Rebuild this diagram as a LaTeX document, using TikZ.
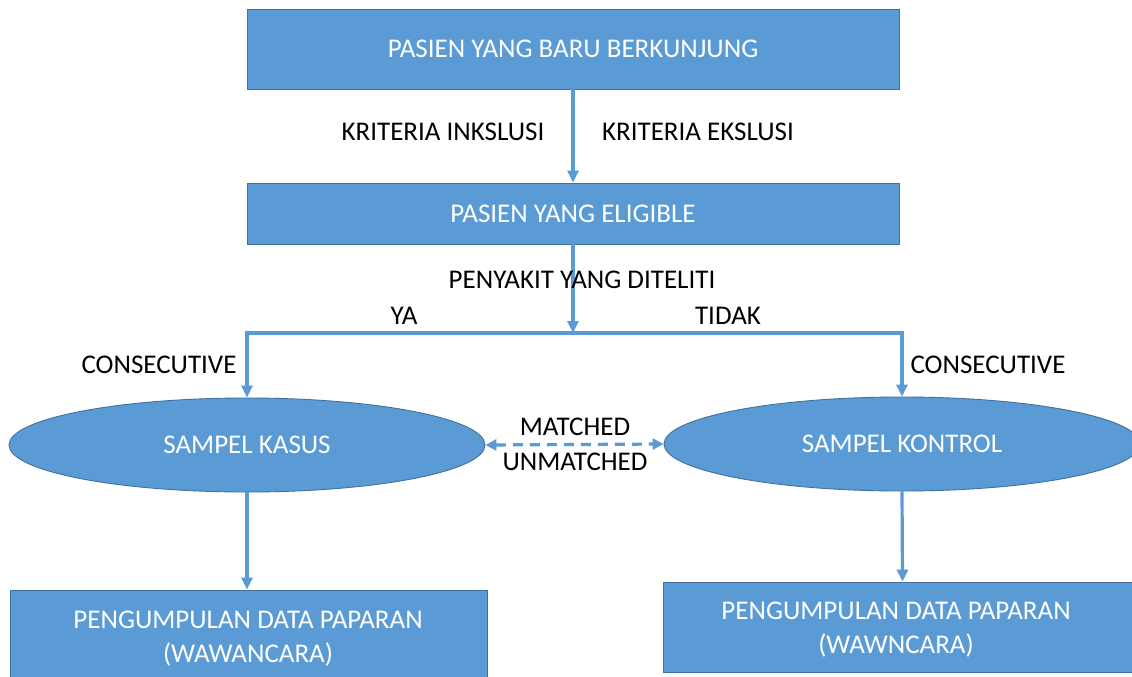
\documentclass[tikz,border=0pt]{standalone}
\usepackage{fontspec}
\setmainfont{Carlito}
\usetikzlibrary{shapes.geometric,arrows.meta}
\definecolor{boxfill}{HTML}{5B9BD5}
\definecolor{boxline}{HTML}{41719C}
\begin{document}
\begin{tikzpicture}[x=1pt,y=-1pt,
  txt/.style={font=\fontsize{27}{34}\selectfont},
  box/.style={draw=boxline,line width=0.9pt,fill=boxfill,text=white,txt,align=center,inner sep=0pt},
  oval/.style={ellipse,draw=boxline,line width=0.9pt,fill=boxfill,text=white,txt,inner sep=0pt,minimum width=476pt,minimum height=94pt},
  lbl/.style={text=black,txt,inner sep=0pt},
  conn/.style={draw=boxfill,line width=3.2pt,-{Triangle[length=12pt,width=11pt]}},
  line/.style={draw=boxfill,line width=3.2pt}]
\useasboundingbox (0,0) rectangle (1132,677);
\clip (0,0) rectangle (1132,677);
\fill[white] (0,0) rectangle (1132,677);
\node[box,minimum width=652pt,minimum height=80pt] (b1) at (573,49) {PASIEN YANG BARU BERKUNJUNG};
\node[box,minimum width=652pt,minimum height=61pt] (b2) at (573,213.5) {PASIEN YANG ELIGIBLE};
\node[oval] (eL) at (247,445) {SAMPEL KASUS};
\node[oval] (eR) at (902,444) {SAMPEL KONTROL};
\node[box,minimum width=477pt,minimum height=100pt] (bL) at (248.5,640) {};
\node[box,minimum width=469pt,minimum height=90pt] (bR) at (897.5,627) {};
\node[text=white,txt,align=center,inner sep=0pt] (tL) at (248,639) {PENGUMPULAN DATA PAPARAN\\(WAWANCARA)};
\node[text=white,txt,align=center,inner sep=0pt] (tR) at (896,630) {PENGUMPULAN DATA PAPARAN\\(WAWNCARA)};
\coordinate (split) at (573,333);
\draw[conn] (b1.south) -- (b2.north);
\draw[conn] (b2.south) -- (split);
\draw[conn] (split) -| (eL.north);
\draw[conn] (split) -| (eR.north);
\draw[conn] (eL.south) -- (eL.south |- bL.north);
\draw[conn] (eR.south) -- ([xshift=5pt]bR.north);
\draw[line,dash pattern=on 10pt off 7pt,{Triangle[length=11pt,width=11pt]}-{Triangle[length=11pt,width=11pt]}] (eL.east) -- (eR.west);
\node[lbl] (ki) at (443,132) {KRITERIA INKSLUSI};
\node[lbl] (ke) at (698,132) {KRITERIA EKSLUSI};
\node[lbl] (pd) at (582,280) {PENYAKIT YANG DITELITI};
\node[lbl] (ya) at (404,316) {YA};
\node[lbl] (td) at (728,316) {TIDAK};
\node[lbl] (cl) at (159,365) {CONSECUTIVE};
\node[lbl] (cr) at (988,365) {CONSECUTIVE};
\node[lbl] (mt) at (575,427) {MATCHED};
\node[lbl] (um) at (575,462) {UNMATCHED};
\end{tikzpicture}
\end{document}
